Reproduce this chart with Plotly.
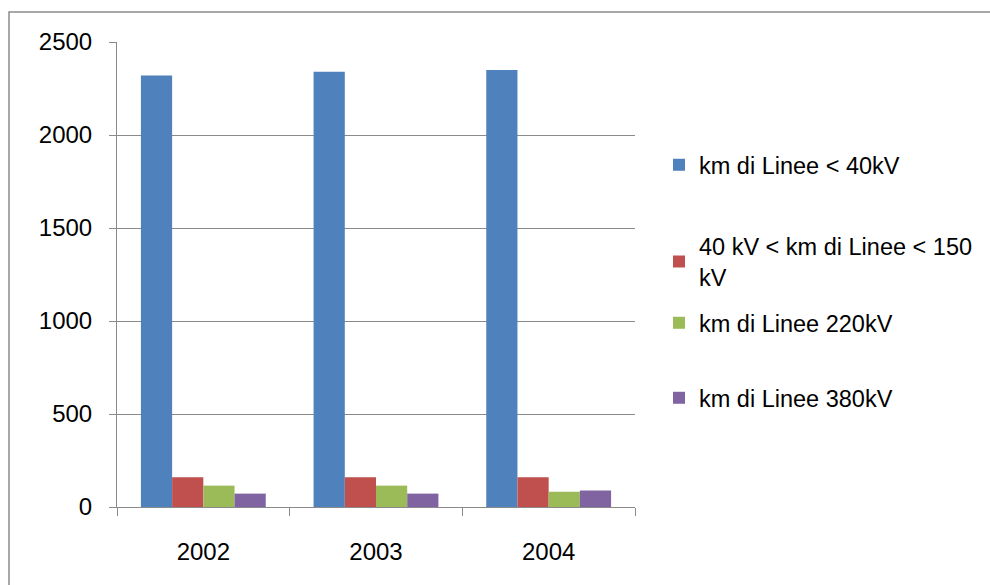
import plotly.graph_objects as go

years = ["2002", "2003", "2004"]
series_names = [
    "km di Linee < 40kV",
    "40 kV < km di Linee < 150<br>kV",
    "km di Linee 220kV",
    "km di Linee 380kV",
]
v_lt40 = [2320, 2340, 2350]
v_40_150 = [160, 160, 160]
v_220 = [115, 115, 82]
v_380 = [72, 72, 89]
colors = ["#4F81BD", "#C0504D", "#9BBB59", "#8064A2"]

values = [v_lt40, v_40_150, v_220, v_380]
legend_ids = ["legend", "legend2", "legend3", "legend4"]

FONT = "Liberation Sans"
TXT = "#000000"
GRAY = "#8a8a8a"

W, H = 990, 585
L, R, T, B = 117, 635, 42, 507


def px_x(px):
    return (px - L) / (R - L)


def px_y(py):
    return (B - py) / (B - T)


fig = go.Figure()
for name, vals, col, lg in zip(series_names, values, colors, legend_ids):
    fig.add_trace(go.Bar(x=years, y=vals, name=name, marker_color=col,
                         marker_line_width=0, legend=lg))

legend_centers = [165, 262, 323, 398]
legend_common = dict(font=dict(family=FONT, size=23.5, color=TXT),
                     bgcolor="rgba(0,0,0,0)", xanchor="left", yanchor="middle",
                     itemclick=False, itemdoubleclick=False)
legends = {}
for lg, cy in zip(legend_ids, legend_centers):
    legends[lg] = dict(x=px_x(659), y=px_y(cy), **legend_common)

fig.update_layout(
    width=W, height=H,
    margin=dict(l=L, r=W - R, t=T, b=H - B, pad=0),
    paper_bgcolor="white", plot_bgcolor="white",
    barmode="group", bargap=0.277, bargroupgap=0,
    font=dict(family=FONT, size=24, color=TXT),
    showlegend=True,
    **legends,
)

fig.update_yaxes(
    range=[0, 2500], dtick=500, tick0=0,
    showgrid=True, gridcolor=GRAY, gridwidth=1,
    showline=True, linecolor=GRAY, linewidth=1,
    ticks="outside", ticklen=7, tickcolor=GRAY,
    zeroline=False, ticklabelstandoff=12,
    tickfont=dict(family=FONT, size=24, color=TXT),
)
fig.update_xaxes(
    showline=True, linecolor=GRAY, linewidth=1,
    ticks="outside", ticklen=8, tickcolor=GRAY, tickson="boundaries",
    showgrid=False, ticklabelstandoff=23,
    tickfont=dict(family=FONT, size=24, color=TXT),
)

# outer chart-area border (extends past the right and bottom edges)
fig.add_shape(type="rect", xref="paper", yref="paper",
              x0=px_x(9), x1=px_x(1000), y0=px_y(600), y1=px_y(12),
              line=dict(color="#8c8c8c", width=1.5), fillcolor="rgba(0,0,0,0)",
              layer="below")

fig.write_html("out.html")
